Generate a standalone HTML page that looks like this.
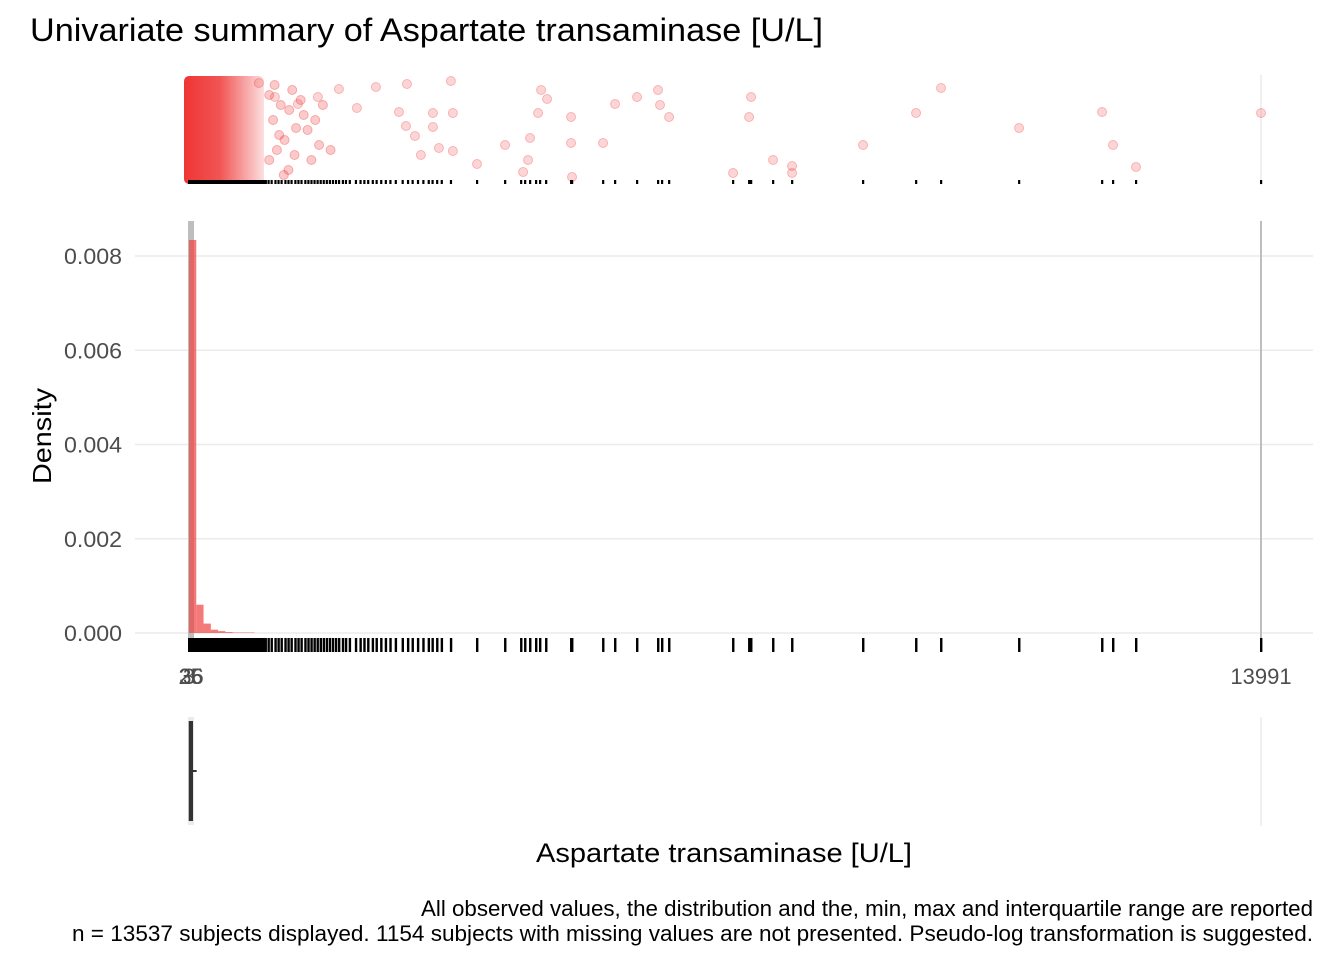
<!DOCTYPE html>
<html><head><meta charset="utf-8"><style>
html,body{margin:0;padding:0;background:#fff;}
svg{display:block;font-family:"Liberation Sans",Arial,sans-serif;}
</style></head><body>
<svg id="chart" width="1344" height="960" viewBox="0 0 1344 960">
<defs><linearGradient id="fade" x1="0" x2="1" y1="0" y2="0"><stop offset="0" stop-color="#ee2a2a" stop-opacity="0.95"/><stop offset="0.45" stop-color="#ee2a2a" stop-opacity="0.8"/><stop offset="1" stop-color="#ee2a2a" stop-opacity="0.15"/></linearGradient></defs>
<text x="30" y="41" font-size="32" fill="#000" textLength="793" lengthAdjust="spacingAndGlyphs">Univariate summary of Aspartate transaminase [U/L]</text>
<g id="grid"></g>
<g id="top"></g>
<g id="main"></g>
<g id="box"></g>
<text x="51" y="436" font-size="26" fill="#000" transform="rotate(-90 51 436)" text-anchor="middle" textLength="96" lengthAdjust="spacingAndGlyphs">Density</text>
<text x="724" y="862" font-size="27" fill="#000" text-anchor="middle" textLength="376" lengthAdjust="spacingAndGlyphs">Aspartate transaminase [U/L]</text>
<text x="1313" y="916" font-size="22" fill="#000" text-anchor="end" textLength="892" lengthAdjust="spacingAndGlyphs">All observed values, the distribution and the, min, max and interquartile range are reported</text>
<text x="1313" y="941" font-size="22" fill="#000" text-anchor="end" textLength="1241" lengthAdjust="spacingAndGlyphs">n = 13537 subjects displayed. 1154 subjects with missing values are not presented. Pseudo-log transformation is suggested.</text>
</svg>
<script>
const xMin = 3, xMax = 13991;
const yTicks = [0, 0.002, 0.004, 0.006, 0.008];
const yTickLabels = ["0.000","0.002","0.004","0.006","0.008"];
const xTickValues = [3, 25, 36, 13991];
const xTickLabels = ["3", "25", "36", "13991"];
const binStarts = [3, 98, 193, 288, 383, 478, 573, 668, 763];
const binDensity = [0.00834, 0.0006, 0.0002, 0.00007, 0.00004, 0.00002, 0.00001, 0.00001, 0.00001];
const outlierValues = [915,1124,1424,1685,1959,2194,2442,2743,2847,3186,3420,3446,3186,2834,2951,3029,3264,3446,3761,4127,4362,4427,4453,4558,4597,4675,4988,4988,5001,5406,5562,5849,6123,6149,6267,7102,7311,7337,7624,7872,7872,8798,9490,9816,10834,11917,12060,12360,13991];
const outlierJitter = [83,97,104,97,89,108,87,112,84,113,81,113,127,126,136,155,148,151,164,145,172,160,138,113,90,99,117,143,177,143,104,97,90,105,117,173,117,97,160,166,173,145,113,88,128,112,145,167,113];
const cloudValues = [1050,1100,1150,1200,1250,1300,1350,1400,1500,1600,1700,1050,1120,1180,1240,1310,1380,1460,1550,1650,1750,1850];
const cloudJitter = [95,120,150,105,140,170,90,128,115,160,145,160,85,135,175,110,155,100,130,120,105,150];
const rugValues = [1040,1080,1130,1170,1210,1260,1300,1340,1390,1430,1470,1520,1560,1600,1640,1680,1720,1760,1800,1840,1880,1920,1960,2010,2050,2100,2180,2240,2290,2340,2400,2450,2510,2570,2630,2700,2790,2860,2920,2990,3060,3130,3180,3240,3300,3420,3761,4127,4336,4388,4453,4531,4583,4662,4988,5001,5406,5562,5849,6123,6175,6267,7102,7311,7337,7624,7872,8798,9490,9816,10834,11917,12060,12360,13991];
const boxStats = {min:3, q1:19, median:25, q3:36, max:13991};

const NS = "http://www.w3.org/2000/svg";
const X0 = 189, X1 = 1261, Y0 = 633, PPU = 47.125 / 0.001;
const xs = v => X0 + (v - xMin) / (xMax - xMin) * (X1 - X0);
const ys = d => Y0 - d * PPU;
function mk(parent, tag, attrs) {
  const e = document.createElementNS(NS, tag);
  for (const k in attrs) e.setAttribute(k, attrs[k]);
  document.getElementById(parent).appendChild(e);
  return e;
}
yTicks.forEach((t, i) => {
  const l = mk("grid", "line", {x1:135, x2:1313, y1:ys(t), y2:ys(t), stroke:"#ebebeb", "stroke-width":1.5});
  
  
  const tx = mk("grid", "text", {x:122, y:ys(t)+8, "font-size":22, fill:"#4d4d4d", "text-anchor":"end", textLength:58, lengthAdjust:"spacingAndGlyphs"});
  tx.textContent = yTickLabels[i];
  
  
});
xTickValues.forEach((v, i) => {
  const tx = mk("grid", "text", {x:xs(v), y:684, "font-size":22, fill:"#4d4d4d", "text-anchor":"middle"});
  tx.textContent = xTickLabels[i];
  
  
});
[[75,185],[717,826]].forEach(r => {
  const l = mk("grid", "line", {x1:xs(xMax), x2:xs(xMax), y1:r[0], y2:r[1], stroke:"#ebebeb", "stroke-width":1.5});
  
  
});
const cloud = mk("top", "rect", {x:184, y:76, width:80, height:108, rx:5, fill:"url(#fade)"});


cloudValues.forEach((v, i) => {
  const c = mk("top", "circle", {cx:xs(v), cy:cloudJitter[i], r:4.5, fill:"#f03030", "fill-opacity":0.25, stroke:"#f03030", "stroke-opacity":0.35});
  
  
});
outlierValues.forEach((v, i) => {
  const c = mk("top", "circle", {cx:xs(v), cy:outlierJitter[i], r:4.5, fill:"#f03030", "fill-opacity":0.2, stroke:"#f03030", "stroke-opacity":0.3});
  
  
});
const topRug = mk("top", "rect", {x:188, y:180, width:xs(1020)-188, height:4, fill:"#000"});


rugValues.forEach(v => {
  const r = mk("top", "rect", {x:xs(v)-1, y:180, width:2.2, height:4, fill:"#000"});
  
  
});
const minLine = mk("main", "rect", {x:188, y:221, width:6, height:420, fill:"#bebebe"});


const maxLine = mk("main", "line", {x1:xs(xMax), x2:xs(xMax), y1:221, y2:650, stroke:"#bebebe", "stroke-width":2});


binStarts.forEach((b, i) => {
  const w = xs(b + 95) - xs(b);
  const r = mk("main", "rect", {x:xs(b), y:ys(binDensity[i]), width:w, height:Y0 - ys(binDensity[i]), fill:"#f04040", "fill-opacity":0.7});
  
  
});
const mainRug = mk("main", "rect", {x:188, y:638, width:xs(1020)-188, height:14, fill:"#000"});


rugValues.forEach(v => {
  const r = mk("main", "rect", {x:xs(v)-1, y:638, width:2.4, height:14, fill:"#000"});
  
  
});
const bg = mk("box", "rect", {x:xs(boxStats.min)-1, y:717, width:6, height:108, fill:"#ebebeb"});


const bx = mk("box", "rect", {x:xs(boxStats.q1)-1.5, y:721, width:Math.max(4, xs(boxStats.q3)-xs(boxStats.q1)+3), height:100, fill:"#333"});


const med = mk("box", "line", {x1:xs(boxStats.median), x2:xs(boxStats.median)+6, y1:771, y2:771, stroke:"#333", "stroke-width":2});


</script>
</body></html>
